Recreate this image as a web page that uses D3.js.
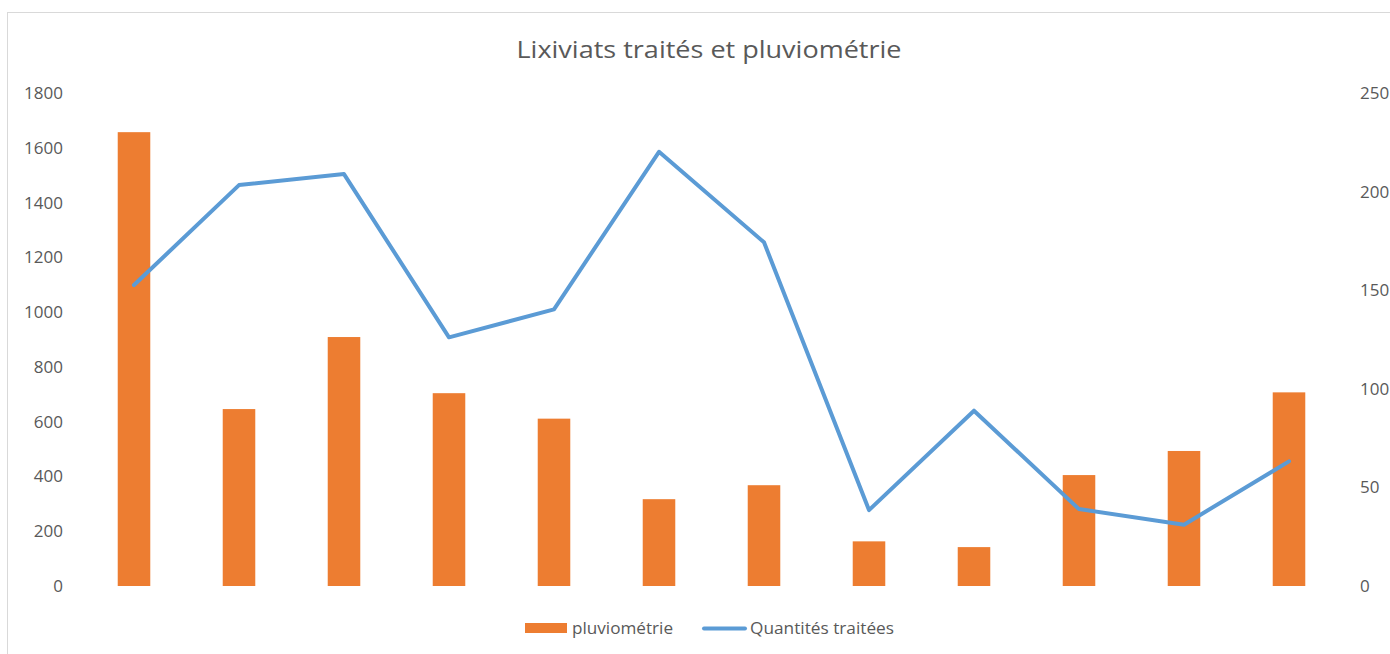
<!DOCTYPE html>
<html><head><meta charset="utf-8">
<script src="https://cdn.jsdelivr.net/npm/d3@7"></script>
<style>body{margin:0;background:#fff}svg{display:block}text{font-family:"Open Sans",sans-serif;fill:#595959}</style>
</head><body>
<svg id="c" width="1390" height="654"></svg>
<script>
const categories = ["1","2","3","4","5","6","7","8","9","10","11","12"];
const pluviometrie = [1657, 646, 909, 704, 611, 317, 368, 163, 142, 405, 493, 707];
const quantites = [152.6, 203.3, 208.9, 126.1, 140.3, 220.2, 174.3, 38.5, 88.9, 39, 31.1, 63.2];
const leftTicks = [0,200,400,600,800,1000,1200,1400,1600,1800];
const rightTicks = [0,50,100,150,200,250];
const title = "Lixiviats traités et pluviométrie";
const seriesNames = ["pluviométrie","Quantités traitées"];

const svg = d3.select("#c");
svg.append("rect").attr("x",7.5).attr("y",12.5).attr("width",1400).attr("height",660)
  .attr("fill","none").attr("stroke","#d9d9d9");

const x = d3.scaleBand().domain(categories).range([81.5,1341.5]).paddingInner(0.69).paddingOuter(0.345);
const yL = d3.scaleLinear().domain([0,1800]).range([586,93]);
const yR = d3.scaleLinear().domain([0,250]).range([586,93]);

// title
const t = svg.append("text").attr("x",709).attr("y",57.5).attr("text-anchor","middle")
  .style("font-size","23px").text(title);
t.attr("textLength",385).attr("lengthAdjust","spacingAndGlyphs");

// left axis
const gl = svg.append("g").attr("transform","translate(63,0)")
  .call(d3.axisLeft(yL).tickValues(leftTicks).tickFormat(d3.format("d")).tickSize(0).tickPadding(0));
gl.select(".domain").remove();
gl.selectAll("text").style("font-size","17px").style("fill","#595959").style("font-family","'Open Sans',sans-serif");

const gr = svg.append("g").attr("transform","translate(1360,0)")
  .call(d3.axisRight(yR).tickValues(rightTicks).tickFormat(d3.format("d")).tickSize(0).tickPadding(0));
gr.select(".domain").remove();
gr.selectAll("text").style("font-size","17px").style("fill","#595959").style("font-family","'Open Sans',sans-serif");

// bars
svg.append("g").selectAll("rect").data(pluviometrie).join("rect")
  .attr("x",(d,i)=>x(categories[i]))
  .attr("width",x.bandwidth())
  .attr("y",d=>yL(d)).attr("height",d=>yL(0)-yL(d))
  .attr("fill","#ED7D31");

// line
const line = d3.line().x((d,i)=>x(categories[i])+x.bandwidth()/2).y(d=>yR(d));
svg.append("path").datum(quantites).attr("d",line)
  .attr("fill","none").attr("stroke","#5B9BD5").attr("stroke-width",4)
  .attr("stroke-linejoin","round").attr("stroke-linecap","round");

// legend
const lg = svg.append("g");
lg.append("rect").attr("x",525).attr("y",623).attr("width",42).attr("height",10).attr("fill","#ED7D31");
lg.append("text").attr("x",572).attr("y",634).style("font-size","16px").text(seriesNames[0])
  .attr("textLength",101).attr("lengthAdjust","spacingAndGlyphs");
lg.append("line").attr("x1",704).attr("x2",745).attr("y1",628.5).attr("y2",628.5)
  .attr("stroke","#5B9BD5").attr("stroke-width",4).attr("stroke-linecap","round");
lg.append("text").attr("x",750).attr("y",634).style("font-size","16px").text(seriesNames[1])
  .attr("textLength",144).attr("lengthAdjust","spacingAndGlyphs");
</script>
</body></html>
